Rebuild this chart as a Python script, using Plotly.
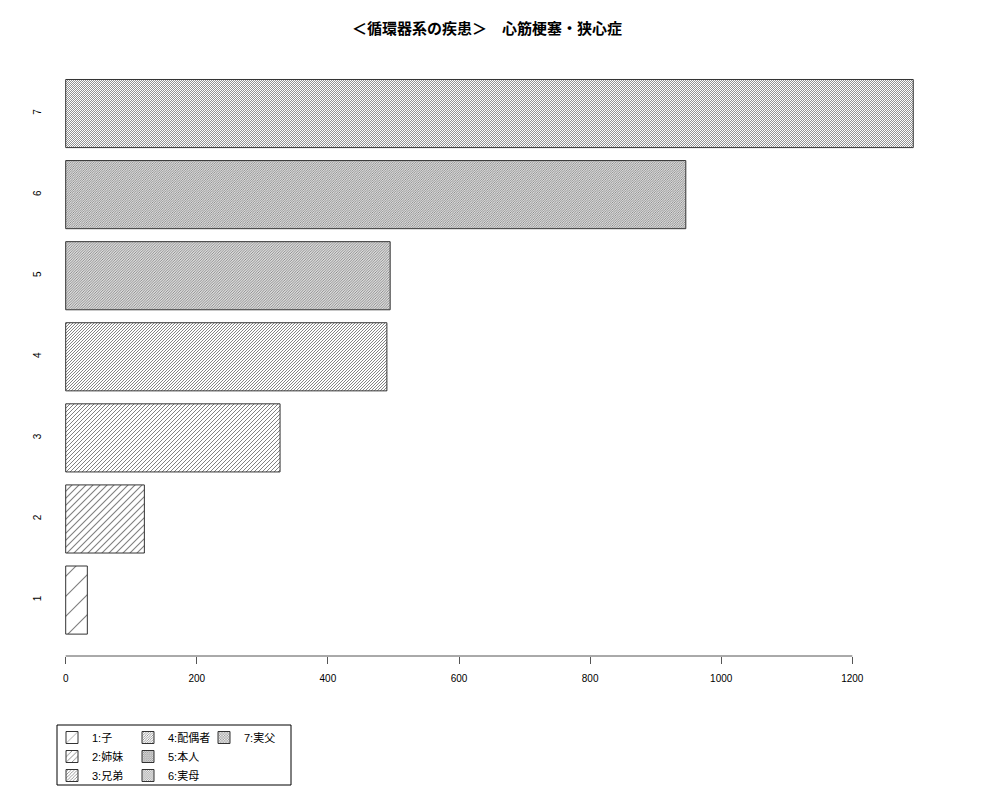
import plotly.graph_objects as go

# 心筋梗塞・狭心症 の件数（続柄コード別）
categories = ["1", "2", "3", "4", "5", "6", "7"]
values = [33, 120, 327, 490, 495, 946, 1293]
legend_labels = ["1:子", "2:姉妹", "3:兄弟", "4:配偶者", "5:本人", "6:実母", "7:実父"]
x_ticks = [0, 200, 400, 600, 800, 1000, 1200]
title_text = "＜循環器系の疾患＞　心筋梗塞・狭心症"

# hatch line spacing (horizontal px) and ink share per bar (style only)
hatch_step = [20, 7, 4, 3, 2.6, 2.3, 2]
hatch_solid = [0.08, 0.22, 0.35, 0.45, 0.5, 0.55, 0.6]
legend_of = ["legend", "legend", "legend", "legend2", "legend2", "legend2", "legend3"]

FONT = "Liberation Sans, Noto Sans CJK JP, sans-serif"
W, H = 1000, 800
OFF = 8  # page body margin


def px(v):
    return (v - OFF) / W


def py(v):
    return 1 - (v - OFF) / H


fig = go.Figure()
for i, cat in enumerate(categories):
    fig.add_trace(go.Bar(
        x=[values[i]],
        y=[cat],
        orientation="h",
        name=legend_labels[i],
        legend=legend_of[i],
        width=0.84,
        marker=dict(
            color="white",
            line=dict(color="#333333", width=1),
            pattern=dict(shape="/", size=hatch_step[i] / 2 ** 0.5, solidity=hatch_solid[i],
                         fgcolor="black", bgcolor="white", fillmode="overlay"),
        ),
        hoverinfo="x+y",
    ))

# x scale: 0 -> 65.7px, 1200 -> 852.3px
left_px, right_px = 44, 930
scale = (852.3 - 65.7) / 1200
x_min = -(65.7 - left_px) / scale
x_max = x_min + (right_px - left_px) / scale

fig.update_layout(
    width=W,
    height=H,
    margin=dict(l=0, r=0, t=0, b=0),
    paper_bgcolor="white",
    plot_bgcolor="white",
    barmode="overlay",
    font=dict(family=FONT, size=11, color="black"),
    title=dict(text="<b>" + title_text + "</b>", x=px(487), xanchor="center",
               y=py(29), yanchor="middle", yref="paper",
               font=dict(family=FONT, size=15, color="black")),
    xaxis=dict(
        domain=[px(left_px), px(right_px)],
        range=[x_min, x_max],
        tickvals=x_ticks,
        ticks="outside", ticklen=7, tickcolor="#555555",
        showline=False, showgrid=False, zeroline=False,
        tickfont=dict(size=10),
        ticklabelstandoff=6,
        automargin=False,
    ),
    yaxis=dict(
        domain=[py(656), py(58)],
        type="category",
        categoryorder="array", categoryarray=categories,
        range=[-0.69, 6.685],
        ticks="", showline=False, showgrid=False, zeroline=False,
        tickangle=-90,
        tickfont=dict(size=10),
        automargin=False,
    ),
    showlegend=True,
    legend=dict(x=px(52), y=py(723), xanchor="left", yanchor="top",
                bgcolor="rgba(0,0,0,0)", font=dict(size=11), tracegroupgap=0),
    legend2=dict(x=px(128), y=py(723), xanchor="left", yanchor="top",
                 bgcolor="rgba(0,0,0,0)", font=dict(size=11), tracegroupgap=0),
    legend3=dict(x=px(204), y=py(723), xanchor="left", yanchor="top",
                 bgcolor="rgba(0,0,0,0)", font=dict(size=11), tracegroupgap=0),
    shapes=[
        # R style axis line spanning first to last tick
        dict(type="line", xref="x", yref="paper", x0=x_ticks[0], x1=x_ticks[-1],
             y0=py(656), y1=py(656), line=dict(color="#555555", width=1)),
        # legend box
        dict(type="rect", xref="paper", yref="paper", x0=px(57), x1=px(291),
             y0=py(785), y1=py(725), line=dict(color="black", width=1)),
    ],
)

fig.write_html("out.html")
